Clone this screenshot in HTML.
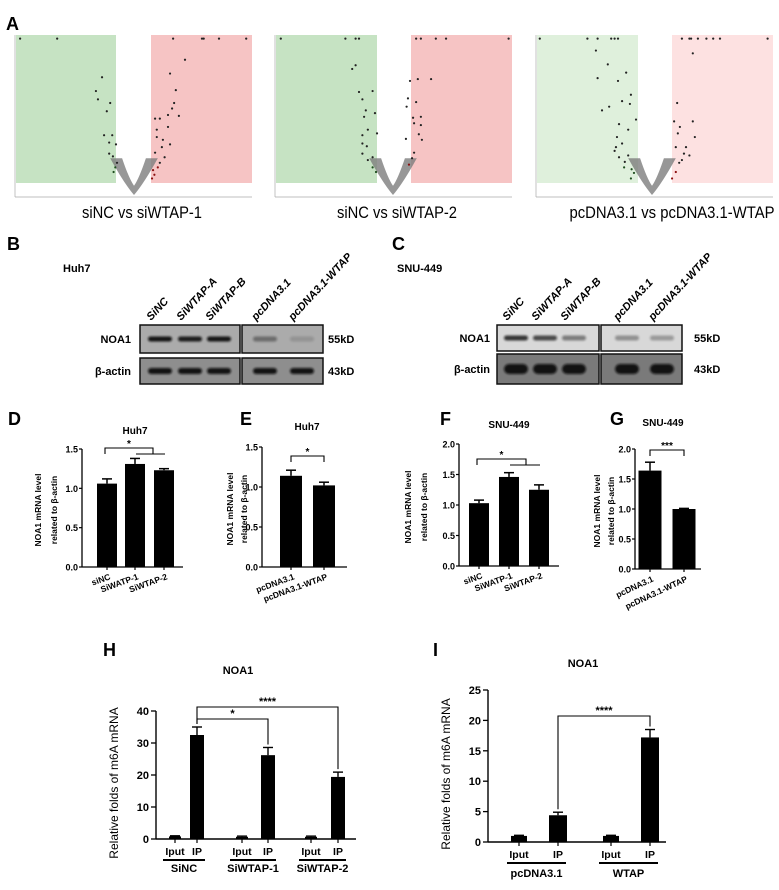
<!DOCTYPE html>
<html><head><meta charset="utf-8"><style>
html,body{margin:0;padding:0;background:#fff;}
svg{display:block;font-family:"Liberation Sans",Arial,sans-serif;}
.b{font-weight:bold;}
</style></head><body>
<svg id="fig" width="779" height="890" viewBox="0 0 779 890">
<defs><filter id="blur" x="-20%" y="-60%" width="140%" height="220%"><feGaussianBlur stdDeviation="1"/></filter></defs>
<text x="6" y="30" font-size="18" class="b">A</text>
<text x="7" y="250" font-size="18" class="b">B</text>
<text x="392" y="250" font-size="18" class="b">C</text>
<text x="8" y="425" font-size="18" class="b">D</text>
<text x="240" y="425" font-size="18" class="b">E</text>
<text x="440" y="425" font-size="18" class="b">F</text>
<text x="610" y="425" font-size="18" class="b">G</text>
<text x="103" y="656" font-size="18" class="b">H</text>
<text x="433" y="656" font-size="18" class="b">I</text>

<g id="volcano"></g>
<g id="blots">
<text x="63" y="272" font-size="11" class="b">Huh7</text>
<text x="397" y="272" font-size="11" class="b">SNU-449</text>
</g>
<g id="bars"></g>
</svg>
<script>
const NS="http://www.w3.org/2000/svg";
function el(tag,attrs,parent,txt){const e=document.createElementNS(NS,tag);for(const k in attrs)e.setAttribute(k,attrs[k]);if(txt!==undefined)e.textContent=txt;parent.appendChild(e);return e;}

// ===== Volcano data (log2FC, -log10 p) =====
const vol1Up=[[1.15,17],[2.0,17],[2.05,17],[2.5,17],[3.3,17],[1.5,14.7],[1.06,13.2],[1.23,11.4],[1.18,10],[1.12,9.4],[1.32,8.6],[1.0,8.7],[0.62,8.3],[0.76,8.3],[0.67,7.1],[1.0,7.4],[0.67,6.3],[0.85,6.0],[1.06,5.5],[0.82,5.2],[0.62,4.6],[0.9,4.1],[0.76,3.5],[0.56,2.7],[0.53,1.8],[0.6,2.2],[0.7,3.0]];
const vol1Dn=[[-3.35,17],[-2.26,17],[-0.94,12.8],[-1.12,11.3],[-1.06,10.4],[-0.7,10],[-0.8,9.1],[-0.88,6.5],[-0.64,6.5],[-0.73,5.7],[-0.53,5.5],[-0.73,4.5],[-0.62,4.2],[-0.5,3.5],[-0.55,3.0],[-0.6,2.5]];
const vol2Up=[[0.68,17],[0.82,17],[1.26,17],[1.56,17],[3.4,17],[0.5,12.4],[0.73,12.6],[1.12,12.6],[0.44,10.5],[0.68,10.1],[0.4,9.6],[0.59,8.4],[0.82,8.5],[0.62,7.8],[0.82,7.6],[0.76,6.6],[0.85,6.0],[0.38,6.1],[0.62,4.6],[0.56,4.0],[0.47,3.3]];
const vol2Dn=[[-3.3,17],[-1.4,17],[-1.1,17],[-1.0,17],[-1.1,14.1],[-1.2,13.7],[-1.0,11.2],[-0.6,11.3],[-0.9,10.4],[-0.8,9.2],[-0.85,8.5],[-0.53,8.9],[-0.74,7.1],[-0.9,6.5],[-0.47,6.7],[-0.9,5.6],[-0.77,5.3],[-0.9,4.5],[-0.74,3.8],[-0.6,4.1],[-0.6,3.0],[-0.5,2.5]];
const vol3Up=[[0.88,17],[1.1,17],[1.15,17],[1.35,17],[1.6,17],[1.8,17],[2.0,17],[3.4,17],[1.2,15.4],[0.74,10],[1.2,8],[0.65,8],[0.82,7.4],[1.26,6.3],[0.76,6.7],[1.0,5.2],[0.7,5.2],[0.94,4.5],[1.1,4.3],[0.8,3.5],[0.88,3.8],[0.7,2.5],[0.59,1.8]];
const vol3Dn=[[-3.3,17],[-1.9,17],[-1.6,17],[-1.2,17],[-1.1,17],[-1.0,17],[-1.65,15.7],[-1.3,14.2],[-1.6,12.7],[-0.76,13.3],[-1.0,12.4],[-0.62,10.9],[-0.88,10.2],[-1.26,9.6],[-1.47,9.2],[-0.65,9.9],[-0.47,8.2],[-0.97,7.7],[-0.7,7.1],[-1.03,6.3],[-0.88,5.6],[-1.06,5.2],[-0.7,4.3],[-0.97,4.1],[-0.82,3.0],[-0.53,2.4],[-0.62,1.8],[-1.1,4.8],[-0.8,3.6],[-0.6,2.8]];
const volTitles=["siNC vs siWTAP-1","siNC vs siWTAP-2","pcDNA3.1 vs pcDNA3.1-WTAP"];
const volCfg=[{x0:15,gx:[16,116],rx:[151,252],cx:134,tx:142,tl:120,up:vol1Up,dn:vol1Dn,g:"#c6e3c3",r:"#f6c4c4"},
              {x0:275,gx:[276,377],rx:[411,512],cx:393,tx:397,tl:120,up:vol2Up,dn:vol2Dn,g:"#c6e3c3",r:"#f6c4c4"},
              {x0:536,gx:[537,638],rx:[672,773],cx:652,tx:672,tl:205,up:vol3Up,dn:vol3Dn,g:"#dff0dc",r:"#fde1e1"}];
const vg=document.getElementById('volcano');
volCfg.forEach((c,i)=>{
  const g=el('g',{},vg);
  
  
  const xs=v=>c.cx+v*34, ys=v=>195-v*9.2;
  el('rect',{x:c.gx[0],y:35,width:c.gx[1]-c.gx[0],height:148,fill:c.g},g);
  el('rect',{x:c.rx[0],y:35,width:c.rx[1]-c.rx[0],height:148,fill:c.r},g);
  el('line',{x1:c.x0,y1:197,x2:c.rx[1],y2:197,stroke:"#aaa","stroke-width":0.7},g);
  el('line',{x1:c.x0,y1:35,x2:c.x0,y2:197,stroke:"#aaa","stroke-width":0.7},g);
  el('path',{d:`M${xs(-0.7)},${ys(4)} Q${xs(-0.3)},${ys(1.3)} ${xs(0)},${ys(0)} Q${xs(0.3)},${ys(1.3)} ${xs(0.7)},${ys(4)} L${xs(0.35)},${ys(4)} Q${xs(0.15)},${ys(1.8)} ${xs(0)},${ys(1.0)} Q${xs(-0.15)},${ys(1.8)} ${xs(-0.35)},${ys(4)} Z`,fill:"#7d7d7d",opacity:0.8},g);
  c.up.forEach(p=>{const d=el('circle',{cx:xs(p[0]),cy:ys(p[1]),r:1.1,fill:p[1]<3.5?"#8a1010":"#222"},g);
    
    });
  c.dn.forEach(p=>{const d=el('circle',{cx:xs(p[0]),cy:ys(p[1]),r:1.1,fill:p[1]<3.5?"#1d4d1d":"#222"},g);
    
    });
  const t=el('text',{x:c.tx,y:218,"font-size":16.5,"text-anchor":"middle",textLength:c.tl,lengthAdjust:"spacingAndGlyphs"},g,volTitles[i]);
  
  
});

// ===== Western blots =====
const blotLanes=["SiNC","SiWTAP-A","SiWTAP-B","pcDNA3.1","pcDNA3.1-WTAP"];
const huhNoa=[0.95,0.9,0.95,0.4,0.15];
const snuNoa=[0.8,0.7,0.45,0.35,0.3];
const bg=document.getElementById('blots');
function blot(o){
  o.boxes.forEach(([a,b])=>{
    const r1=el('rect',{x:a,y:o.yN,width:b-a,height:o.hN,fill:o.bgN,stroke:"#111","stroke-width":1.5},bg);
    
    
    const r2=el('rect',{x:a,y:o.yA,width:b-a,height:o.hA,fill:o.bgA,stroke:"#111","stroke-width":1.5},bg);
    
    
  });
  o.lanes.forEach((cx,i)=>{
    el('rect',{x:cx-12,y:o.yN+o.hN/2-2.5,width:24,height:5,rx:2.5,fill:"#111",opacity:o.noa[i],filter:"url(#blur)"},bg);
    el('rect',{x:cx-12,y:o.yA+o.hA/2-o.bandH/2,width:24,height:o.bandH,rx:o.bandH/2,fill:"#111",opacity:0.95,filter:"url(#blur)"},bg);
    const t=el('text',{transform:`translate(${cx-9},${o.yN-4}) rotate(-47)`,"font-size":11,"font-style":"italic","font-weight":"bold"},bg,blotLanes[i]);
    
    
  });
  el('text',{x:o.labX,y:o.yN+o.hN/2+4,"font-size":11,"text-anchor":"end",class:"b"},bg,"NOA1");
  el('text',{x:o.labX,y:o.yA+o.hA/2+4,"font-size":11,"text-anchor":"end",class:"b"},bg,"β-actin");
  el('text',{x:o.kdX,y:o.yN+o.hN/2+4,"font-size":11,class:"b"},bg,"55kD");
  el('text',{x:o.kdX,y:o.yA+o.hA/2+4,"font-size":11,class:"b"},bg,"43kD");
}
blot({boxes:[[140,240],[242,323]],yN:325,hN:28,yA:358,hA:26,lanes:[160,190,219,265,302],noa:huhNoa,bgN:"#ababab",bgA:"#8e8e8e",labX:131,kdX:328,bandH:6});
blot({boxes:[[497,599],[601,682]],yN:325,hN:26,yA:354,hA:30,lanes:[516,545,574,627,662],noa:snuNoa,bgN:"#d8d8d8",bgA:"#7a7a7a",labX:490,kdX:694,bandH:10});

// ===== Bar charts D-G =====
const dCats=["siNC","SiWATP-1","SiWTAP-2"], dVals=[1.06,1.31,1.23], dErr=[0.06,0.07,0.02];
const eCats=["pcDNA3.1","pcDNA3.1-WTAP"], eVals=[1.14,1.02], eErr=[0.07,0.04];
const fCats=["siNC","SiWATP-1","SiWTAP-2"], fVals=[1.03,1.46,1.25], fErr=[0.05,0.07,0.08];
const gCats=["pcDNA3.1","pcDNA3.1-WTAP"], gVals=[1.64,1.0], gErr=[0.14,0.01];
const dTicks=[0,0.5,1.0,1.5], fTicks=[0,0.5,1.0,1.5,2.0];
const bgb=document.getElementById('bars');
function smallChart(o){
  const g=el('g',{},bgb);
  
  
  const y=v=>o.y0-(v/o.ymax)*(o.y0-o.ytop);
  const x=i=>o.xs[i];
  el('line',{x1:o.ax,y1:o.ytop,x2:o.ax,y2:o.y0,stroke:"#000","stroke-width":1.3},g);
  el('line',{x1:o.ax,y1:o.y0,x2:o.axEnd,y2:o.y0,stroke:"#000","stroke-width":1.3},g);
  o.ticks.forEach(t=>{el('line',{x1:o.ax-3,y1:y(t),x2:o.ax,y2:y(t),stroke:"#000","stroke-width":1.2},g);
    el('text',{x:o.ax-4,y:y(t)+3.5,"font-size":9,"text-anchor":"end",class:"b"},g,t.toFixed(1));});
  o.vals.forEach((v,i)=>{
    const b=el('rect',{x:x(i)-o.bw/2,y:y(v),width:o.bw,height:o.y0-y(v),fill:"#000"},g);
    
    
    const ey=y(v+o.err[i]);
    el('line',{x1:x(i),y1:ey,x2:x(i),y2:y(v),stroke:"#000","stroke-width":1.5},g);
    el('line',{x1:x(i)-5,y1:ey,x2:x(i)+5,y2:ey,stroke:"#000","stroke-width":1.5},g);
    el('line',{x1:x(i),y1:o.y0,x2:x(i),y2:o.y0+3,stroke:"#000","stroke-width":1.2},g);
    el('text',{transform:`translate(${x(i)+4},${o.y0+12}) rotate(${o.rot})`,"font-size":8.5,"text-anchor":"end",class:"b"},g,o.cats[i]);
  });
  el('text',{x:o.tx,y:o.ty,"font-size":10,"text-anchor":"middle",class:"b"},g,o.title);
  const my=(o.ytop+o.y0)/2+2;
  el('text',{transform:`translate(${o.yt1},${my}) rotate(-90)`,"font-size":8.5,"text-anchor":"middle",class:"b"},g,"NOA1 mRNA level");
  el('text',{transform:`translate(${o.yt2},${my}) rotate(-90)`,"font-size":8.5,"text-anchor":"middle",class:"b"},g,"related to β-actin");
  const s=o.sig;
  let d=`M${s.x1},${s.y+6} V${s.y} H${s.x2}`;
  d+= s.sub ? ` V${s.y+6} M${s.s1},${s.y+6} H${s.s2}` : ` V${s.y+6}`;
  el('path',{d:d,fill:"none",stroke:"#000","stroke-width":1.1},g);
  el('text',{x:(s.x1+s.x2)/2,y:s.y-1,"font-size":10,"text-anchor":"middle",class:"b"},g,s.t);
}
smallChart({name:"chart-d",cats:dCats,vals:dVals,err:dErr,ticks:dTicks,ymax:1.5,ax:82,axEnd:183,y0:567,ytop:449,xs:[107,135,164],bw:20,rot:-20,tx:135,ty:434,title:"Huh7",yt1:41,yt2:57,sig:{y:448,x1:105,x2:153,t:"*",sub:true,s1:136,s2:165}});
smallChart({name:"chart-e",cats:eCats,vals:eVals,err:eErr,ticks:dTicks,ymax:1.5,ax:262,axEnd:347,y0:567,ytop:447,xs:[291,324],bw:22,rot:-20,tx:307,ty:430,title:"Huh7",yt1:233,yt2:247,sig:{y:456,x1:291,x2:324,t:"*",sub:false}});
smallChart({name:"chart-f",cats:fCats,vals:fVals,err:fErr,ticks:fTicks,ymax:2.0,ax:459,axEnd:559,y0:566,ytop:444,xs:[479,509,539],bw:20,rot:-20,tx:509,ty:428,title:"SNU-449",yt1:411,yt2:427,sig:{y:459,x1:477,x2:526,t:"*",sub:true,s1:510,s2:540}});
smallChart({name:"chart-g",cats:gCats,vals:gVals,err:gErr,ticks:fTicks,ymax:2.0,ax:635,axEnd:701,y0:569,ytop:449,xs:[650,684],bw:23,rot:-25,tx:663,ty:426,title:"SNU-449",yt1:600,yt2:614,sig:{y:450,x1:650,x2:684,t:"***",sub:false}});

// ===== H & I =====
const hVals=[0.8,32.5,0.7,26.2,0.7,19.4], hErr=[0.2,2.5,0.2,2.4,0.2,1.5];
const hTicks=[0,10,20,30,40], hGroups=["SiNC","SiWTAP-1","SiWTAP-2"];
const iVals=[1.0,4.4,1.0,17.2], iErr=[0.1,0.5,0.1,1.3];
const iTicks=[0,5,10,15,20,25], iGroups=["pcDNA3.1","WTAP"];
const subLabels=["Iput","IP"];
function bigChart(o){
  const g=el('g',{},bgb);
  
  
  const y=v=>o.y0-(v/o.ymax)*(o.y0-o.ytop);
  el('line',{x1:o.ax,y1:o.ytop,x2:o.ax,y2:o.y0,stroke:"#000","stroke-width":1.4},g);
  el('line',{x1:o.ax,y1:o.y0,x2:o.axEnd,y2:o.y0,stroke:"#000","stroke-width":1.4},g);
  o.ticks.forEach(t=>{el('line',{x1:o.ax-5,y1:y(t),x2:o.ax,y2:y(t),stroke:"#000","stroke-width":1.3},g);
    el('text',{x:o.ax-7,y:y(t)+4,"font-size":11,"text-anchor":"end",class:"b"},g,String(t));});
  o.vals.forEach((v,i)=>{
    const cx=o.xs[i];
    const w=i%2?o.bw:o.bwI;
    const b=el('rect',{x:cx-w/2,y:y(v),width:w,height:o.y0-y(v),fill:"#000"},g);
    
    
    const ey=y(v+o.err[i]);
    el('line',{x1:cx,y1:ey,x2:cx,y2:y(v),stroke:"#000","stroke-width":1.4},g);
    el('line',{x1:cx-5,y1:ey,x2:cx+5,y2:ey,stroke:"#000","stroke-width":1.4},g);
    el('line',{x1:cx,y1:o.y0,x2:cx,y2:o.y0+4,stroke:"#000","stroke-width":1.2},g);
    el('text',{x:cx,y:o.ly,"font-size":10.5,"text-anchor":"middle",class:"b"},g,subLabels[i%2]);
  });
  o.groups.forEach((gn,j)=>{
    const a=o.xs[2*j]-12,b2=o.xs[2*j+1]+8;
    el('line',{x1:a,y1:o.ly+5,x2:b2,y2:o.ly+5,stroke:"#000","stroke-width":2},g);
    el('text',{x:(a+b2)/2,y:o.gy,"font-size":11,"text-anchor":"middle",class:"b"},g,gn);
  });
  el('text',{x:o.tx,y:o.ty,"font-size":11,"text-anchor":"middle",class:"b"},g,"NOA1");
  el('text',{transform:`translate(${o.ytx},${(o.ytop+o.y0)/2+8}) rotate(-90)`,"font-size":12,"text-anchor":"middle"},g,"Relative folds of m6A mRNA");
  o.sigs.forEach(s=>{
    el('path',{d:`M${o.xs[s.a]},${y(o.vals[s.a]+o.err[s.a])-3} V${s.y} H${o.xs[s.b]} V${y(o.vals[s.b]+o.err[s.b])-3}`,fill:"none",stroke:"#000","stroke-width":1.1},g);
    el('text',{x:(o.xs[s.a]+o.xs[s.b])/2,y:s.y-2,"font-size":11,"text-anchor":"middle",class:"b"},g,s.t);
  });
}
bigChart({name:"chart-h",vals:hVals,err:hErr,ticks:hTicks,groups:hGroups,ymax:40,ax:156,axEnd:356,y0:839,ytop:711,xs:[175,197,242,268,311,338],bw:14,bwI:12,ly:855,gy:872,tx:238,ty:674,ytx:118,sigs:[{a:1,b:3,y:719,t:"*"},{a:1,b:5,y:707,t:"****"}]});
bigChart({name:"chart-i",vals:iVals,err:iErr,ticks:iTicks,groups:iGroups,ymax:25,ax:488,axEnd:666,y0:842,ytop:690,xs:[519,558,611,650],bw:18,bwI:16,ly:858,gy:877,tx:583,ty:667,ytx:450,sigs:[{a:1,b:3,y:716,t:"****"}]});
</script>
</body></html>
